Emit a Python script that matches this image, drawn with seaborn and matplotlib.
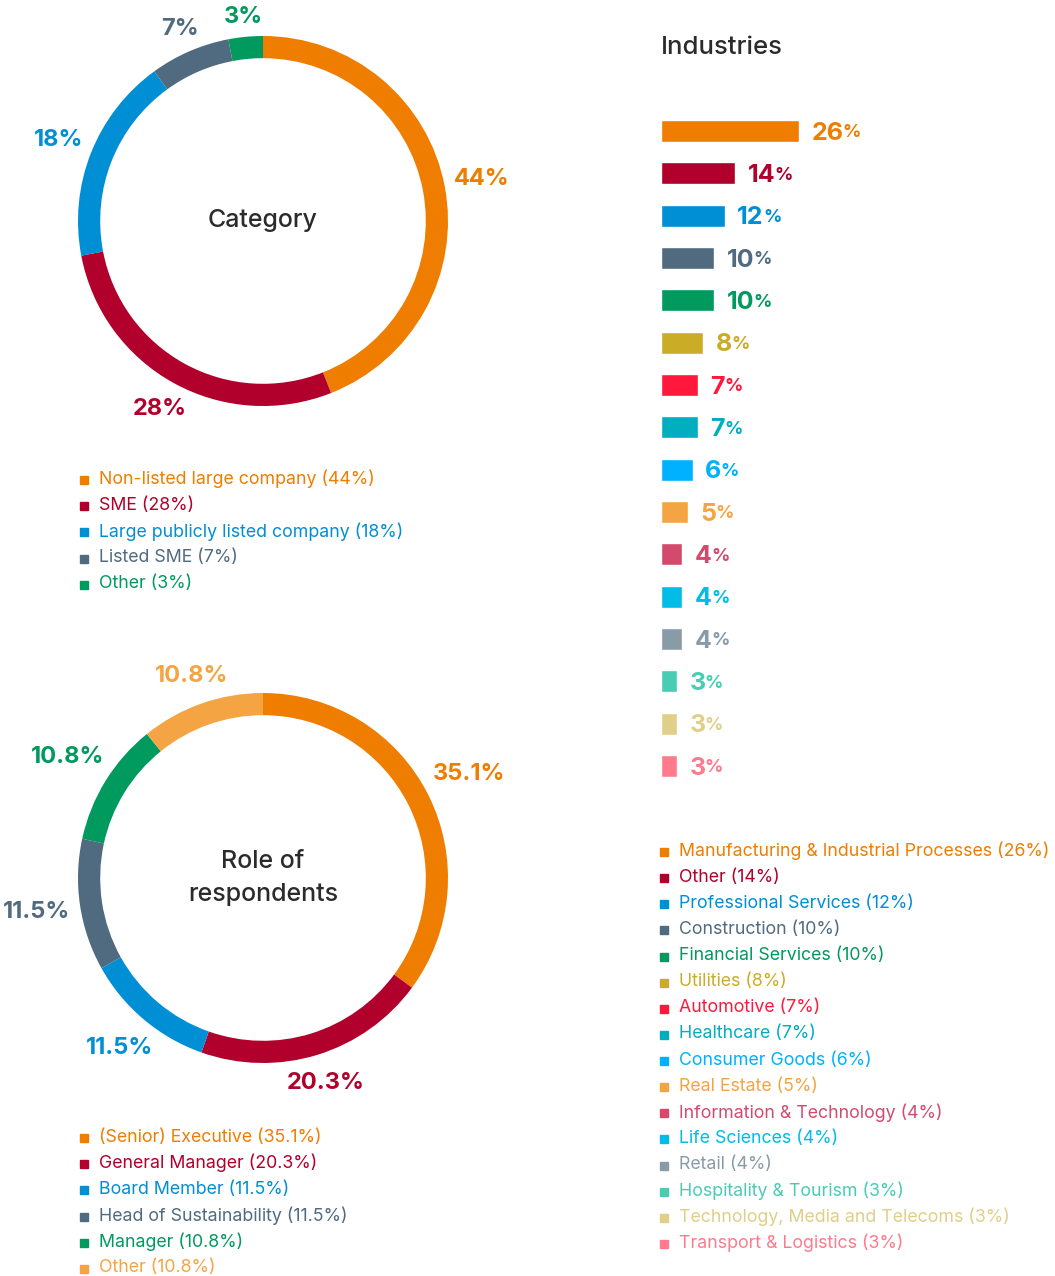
import matplotlib
matplotlib.use("Agg")
import numpy as np
import matplotlib.pyplot as plt
import seaborn as sns
from matplotlib.lines import Line2D

# Data
category_names = ["Non-listed large company", "SME", "Large publicly listed company", "Listed SME", "Other"]
category_values = [44, 28, 18, 7, 3]
category_labels = ["44%", "28%", "18%", "7%", "3%"]
category_colors = ["#EF7D00", "#B0002B", "#008FD5", "#506B80", "#00995E"]

role_names = ["(Senior) Executive", "General Manager", "Board Member", "Head of Sustainability", "Manager", "Other"]
role_values = [35.1, 20.3, 11.5, 11.5, 10.8, 10.8]
role_labels = ["35.1%", "20.3%", "11.5%", "11.5%", "10.8%", "10.8%"]
role_colors = ["#EF7D00", "#B0002B", "#008FD5", "#506B80", "#00995E", "#F5A443"]

industry_names = ["Manufacturing & Industrial Processes", "Other", "Professional Services", "Construction",
                  "Financial Services", "Utilities", "Automotive", "Healthcare", "Consumer Goods",
                  "Real Estate", "Information & Technology", "Life Sciences", "Retail",
                  "Hospitality & Tourism", "Technology, Media and Telecoms", "Transport & Logistics"]
industry_values = [26, 14, 12, 10, 10, 8, 7, 7, 6, 5, 4, 4, 4, 3, 3, 3]
industry_colors = ["#EF7D00", "#B0002B", "#008FD5", "#506B80", "#00995E", "#CBAC27", "#FF173C", "#00AEC0",
                   "#00B1FF", "#F5A443", "#D24B6D", "#00BCE6", "#8A9BA8", "#48CDB3", "#E0CF88", "#FF7A8C"]

sns.set_theme(style="white")
plt.rcParams["font.family"] = ["Inter", "DejaVu Sans"]

W, H = 1055, 1276
fig = plt.figure(figsize=(W / 100, H / 100), dpi=100)
renderer = fig.canvas.get_renderer()


def fx(px):
    return px / W


def fy(py):
    return 1 - py / H


def donut(cx, cy, values, labels, colors, center_text):
    r = 185
    lim = 1.3
    size = 2 * lim * r
    ax = fig.add_axes([fx(cx - size / 2), fy(cy + size / 2), size / W, size / H])
    wedges, _ = ax.pie(values, colors=colors, startangle=90, counterclock=False, radius=1,
                       wedgeprops=dict(width=0.12, edgecolor="none"))
    ax.set_xlim(-lim, lim)
    ax.set_ylim(-lim, lim)
    ax.set_aspect("equal")
    ax.axis("off")
    # labels sit just outside the ring, pushed out by their own size
    for w, lab, c in zip(wedges, labels, colors):
        ang = np.deg2rad((w.theta1 + w.theta2) / 2)
        t = ax.text(0, 0, lab, color=c, fontsize=17, fontweight="bold", ha="center", va="center")
        tw = t.get_window_extent(renderer).width
        d = r + 9 + abs(np.cos(ang)) * tw / 2 + abs(np.sin(ang)) * 9
        t.set_position((np.cos(ang) * d / r, np.sin(ang) * d / r))
    ax.text(0, 0, center_text, ha="center", va="center", fontsize=18, fontweight="medium",
            color="#2B2B2B", linespacing=1.6)


def legend(x, y0, step, names, values, colors, fmt, fs):
    for i, (n, v, c) in enumerate(zip(names, values, colors)):
        y = y0 + i * step
        fig.add_artist(Line2D([fx(x + 4)], [fy(y + 1)], marker="s", markersize=5.2, color=c,
                              linestyle="none", transform=fig.transFigure))
        fig.text(fx(x + 19), fy(y), f"{n} ({v:{fmt}}%)", color=c, fontsize=fs,
                 ha="left", va="center")


# Category donut
donut(263, 221, category_values, category_labels, category_colors, "Category")
legend(80, 479, 26.2, category_names, category_values, category_colors, "g", 12.8)

# Role donut
donut(263, 878, role_values, role_labels, role_colors, "Role of\nrespondents")
legend(80, 1137, 26.2, role_names, role_values, role_colors, ".1f", 12.8)

# Industries bar chart
step = 42.33
n = len(industry_values)
axb = fig.add_axes([fx(661), fy(131 - step / 2 + n * step), 300 / W, n * step / H])
sns.barplot(x=industry_values, y=industry_names, hue=industry_names, palette=industry_colors,
            legend=False, width=0.52, saturation=1, ax=axb, orient="h")
axb.set_xlim(0, 300 / 5.3)
axb.set_ylim(n - 0.5, -0.5)
axb.axis("off")
for i, (v, c) in enumerate(zip(industry_values, industry_colors)):
    t = axb.annotate(f"{v}", xy=(v, i), xytext=(9, -1.5), textcoords="offset points",
                     ha="left", va="center", fontsize=18, fontweight="bold", color=c)
    axb.annotate("%", xy=(1, 0.14), xycoords=t, xytext=(-0.5, 0), textcoords="offset points",
                 ha="left", va="bottom", fontsize=13, fontweight="bold", color=c)

fig.text(fx(661), fy(48), "Industries", fontsize=18.5, fontweight="medium", color="#2B2B2B",
         ha="left", va="center")

legend(660, 851, 26.13, industry_names, industry_values, industry_colors, "g", 12.8)

fig.savefig("out.png", dpi=100)
